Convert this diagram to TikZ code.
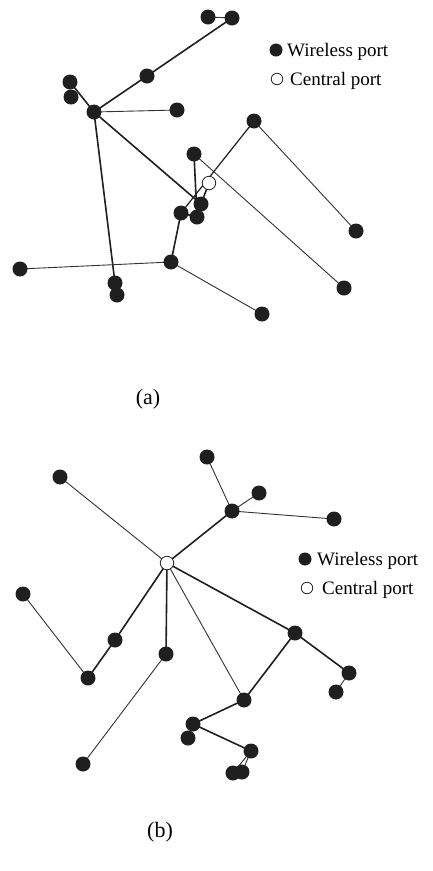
\documentclass[tikz,border=0pt]{standalone}
\usepackage{fontspec}
\setmainfont{Liberation Serif}
\begin{document}
\begin{tikzpicture}[x=1pt,y=-1pt,
  wport/.style={circle,fill=black!88,inner sep=0pt,minimum size=15pt},
  cport/.style={circle,draw=black!85,line width=0.8pt,fill=white,inner sep=0pt,minimum size=13.5pt},
  lwport/.style={circle,fill=black!88,inner sep=0pt,minimum size=13pt},
  lcport/.style={circle,draw=black!85,line width=0.8pt,fill=white,inner sep=0pt,minimum size=11.5pt},
  thk/.style={line width=1.6pt,draw=black!88},
  thn/.style={line width=0.9pt,draw=black!80},
  legtxt/.style={inner sep=0pt,anchor=base west,font=\fontsize{19}{22}\selectfont},
  captxt/.style={inner sep=0pt,font=\fontsize{22}{25}\selectfont}]
\useasboundingbox (0,0) rectangle (432,871);
% ---------- (a) ----------
\coordinate (a1) at (208,17);
\coordinate (a2) at (232,18);
\coordinate (a3) at (147,76);
\coordinate (h) at (94,112);
\coordinate (a4) at (70,82);
\coordinate (a5) at (71,97);
\coordinate (a6) at (177,110);
\coordinate (a7) at (194,154);
\coordinate (c) at (209,183);
\coordinate (a8) at (254,121);
\coordinate (a9) at (201,204);
\coordinate (a10) at (181,213);
\coordinate (a11) at (197,217);
\coordinate (a12) at (171,262);
\coordinate (a13) at (20,269);
\coordinate (a14) at (262,314);
\coordinate (a15) at (115,283);
\coordinate (a16) at (117,295);
\coordinate (a17) at (344,288);
\coordinate (a18) at (356,231);
\draw[thn] (a1) -- (a2);
\draw[thk] (a2) -- (a3);
\draw[thk] (a3) -- (h);
\draw[thk] (h) -- (a4);
\draw[thn] (h) -- (a6);
\draw[thk] (h) -- (a9);
\draw[thk] (h) -- (a15);
\draw[thk] (a7) -- (a11);
\draw[thn] (a7) -- (a17);
\draw[thk,line width=1.2pt] (a8) -- (a10);
\draw[thn] (a8) -- (a18);
\draw[thk] (c) -- (a9);
\draw[thk] (a10) -- (a12);
\draw[thn] (a12) -- (a13);
\draw[thn] (a12) -- (a14);
\draw[thk] (a10) -- (a11);
\foreach \n in {a1,a2,a3,h,a4,a5,a6,a7,a8,a11,a9,a10,a12,a13,a14,a15,a16,a17,a18}
  \node[wport] at (\n) {};
\node[cport] (cn) at (c) {};
% legend (a)
\node[lwport] (la1) at (276,50) {};
\node[legtxt] (lt1) at (287,56) {Wireless port};
\node[lcport] (la2) at (277,79) {};
\node[legtxt] (lt2) at (290,85) {Central port};
\node[captxt] (capa) at (148,399) {(a)};
% ---------- (b) ----------
\coordinate (c2) at (167,563);
\coordinate (b1) at (60,477);
\coordinate (b2) at (207,457);
\coordinate (b3) at (232,511);
\coordinate (b4) at (259,493);
\coordinate (b5) at (334,519);
\coordinate (b6) at (23,594);
\coordinate (b7) at (115,640);
\coordinate (b8) at (88,678);
\coordinate (b9) at (166,654);
\coordinate (b10) at (295,633);
\coordinate (b11) at (349,673);
\coordinate (b12) at (336,692);
\coordinate (b13) at (244,700);
\coordinate (b14) at (193,724);
\coordinate (b15) at (188,738);
\coordinate (b16) at (251,751);
\coordinate (b17) at (242,772);
\coordinate (b18) at (233,773);
\coordinate (b19) at (83,764);
\draw[thn] (c2) -- (b1);
\draw[thk] (c2) -- (b3);
\draw[thn] (b3) -- (b2);
\draw[thn] (b3) -- (b4);
\draw[thn] (b3) -- (b5);
\draw[thk] (c2) -- (b7);
\draw[thk] (b7) -- (b8);
\draw[thn] (b8) -- (b6);
\draw[thk] (c2) -- (b9);
\draw[thn] (b9) -- (b19);
\draw[thn] (c2) -- (b13);
\draw[thk] (c2) -- (b10);
\draw[thk] (b10) -- (b13);
\draw[thk] (b10) -- (b11);
\draw[thn] (b11) -- (b12);
\draw[thk] (b13) -- (b14);
\draw[thk] (b14) -- (b16);
\draw[thn] (b16) -- (b17);
\draw[thn] (b16) -- (b18);
\foreach \n in {b1,b2,b3,b4,b5,b6,b7,b8,b9,b10,b11,b12,b13,b15,b14,b16,b18,b17,b19}
  \node[wport] at (\n) {};
\node[cport] (c2n) at (c2) {};
% legend (b)
\node[lwport] (lb1) at (305,559) {};
\node[legtxt] (lt3) at (317,565) {Wireless port};
\node[lcport] (lb2) at (307,588) {};
\node[legtxt] (lt4) at (322,594) {Central port};
\node[captxt] (capb) at (160,832) {(b)};
\end{tikzpicture}
\end{document}
